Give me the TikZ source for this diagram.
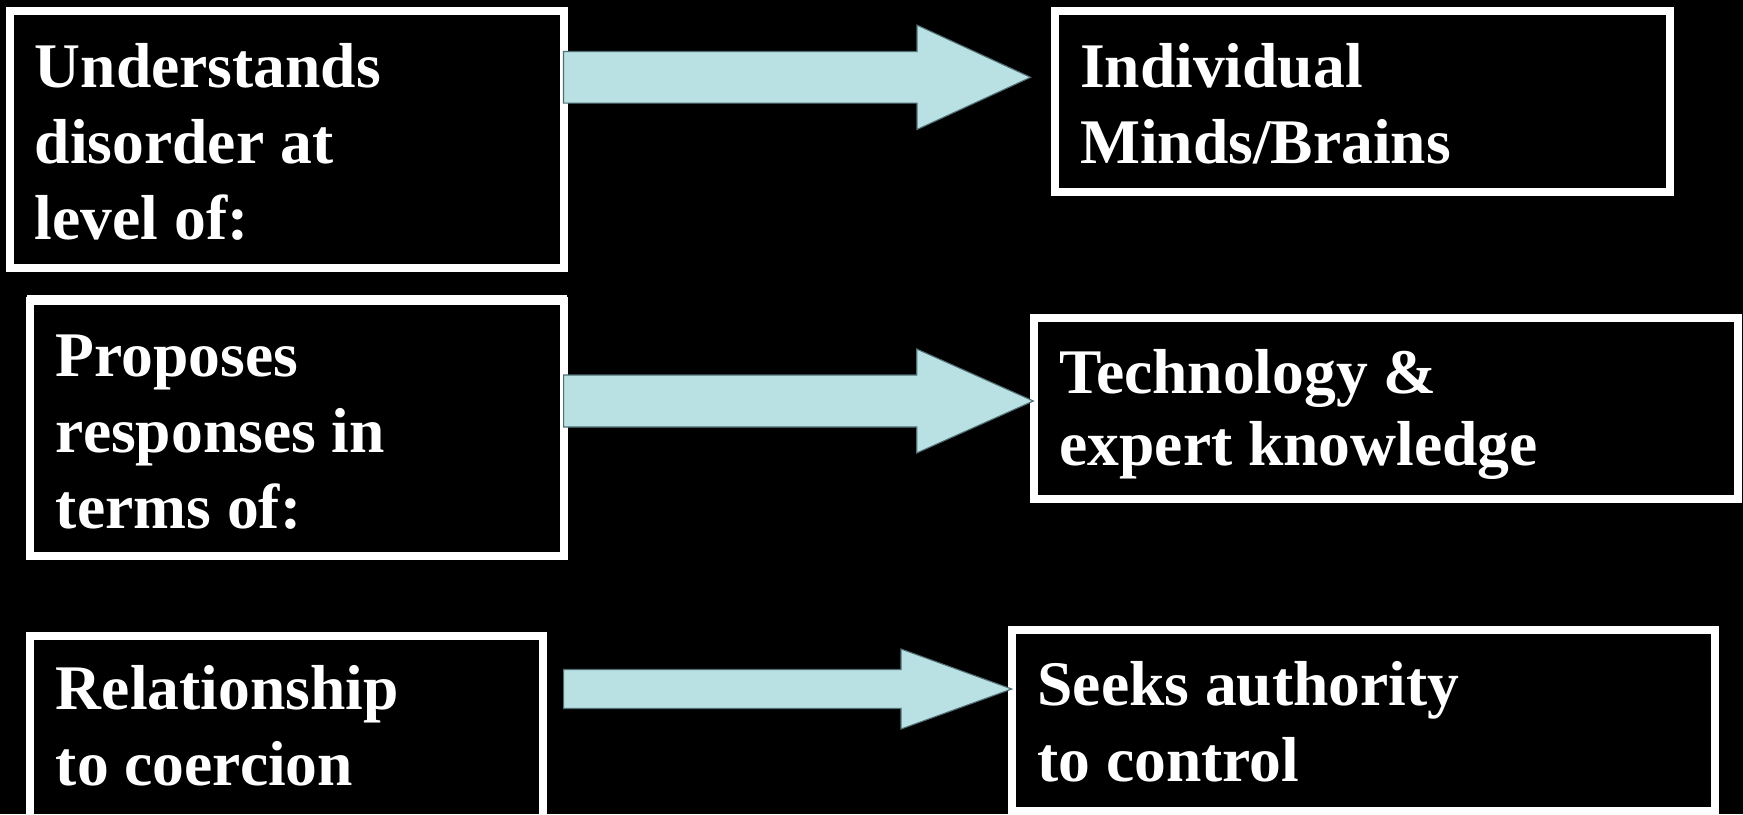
\documentclass[tikz,border=0pt]{standalone}
\usepackage{fontspec}
\setmainfont{Liberation Serif}
\usetikzlibrary{calc}
\definecolor{arrowblue}{RGB}{185,224,227}
\definecolor{arrowedge}{RGB}{80,110,115}
\tikzset{
  frame/.style={draw=white, line width=3.6pt, inner sep=0pt, outer sep=0pt},
  boxtext/.style={anchor=base west, inner sep=0pt, align=left, text=white,
    font=\fontsize{28.6pt}{34.2pt}\selectfont\bfseries},
  fatarrow/.style={fill=arrowblue, draw=arrowedge, line width=0.5pt}
}
% #1 start, #2 tip, #3 half shaft, #4 half head, #5 head length
\newcommand{\fatarrow}[5]{%
  \draw[fatarrow] ($(#1)+(0,-#3)$) -- ($(#2)+(-#5,-#3)$) -- ($(#2)+(-#5,-#4)$) -- (#2)
    -- ($(#2)+(-#5,#4)$) -- ($(#2)+(-#5,#3)$) -- ($(#1)+(0,#3)$) -- cycle;}
\begin{document}
\begin{tikzpicture}[x=0.45pt,y=0.45pt,yscale=-1,xscale=1]
    \useasboundingbox (0,0) rectangle (1743,814);
    \fill[black] (0,0) rectangle (1743,814);

    % Frames
    \node[frame, minimum width=249.2pt, minimum height=115.4pt] (understand) at (286.6,139.5) {};
    \node[frame, minimum width=276.8pt, minimum height=81.3pt] (minds) at (1362.5,101.5) {};
    \node[frame, minimum width=240pt, minimum height=114.9pt] (proposes) at (296.9,428.7) {};
    \node[frame, minimum width=316.8pt, minimum height=81.2pt] (technology) at (1385.7,408.5) {};
    \node[frame, minimum width=230.6pt, minimum height=87.5pt] (relation) at (286.4,732.75) {};
    \node[frame, minimum width=316.4pt, minimum height=81.4pt] (seeks) at (1363.6,720.1) {};
    \draw[white, line width=0.9pt] (27,296) -- (567,296);

    % Text Node
    \node[boxtext] (understandtext) at (34.4,239.3) {Understands\\disorder at\\level of:};
    % Text Node
    \node[boxtext] (mindstext) at (1079.6,163.3) {Individual\\Minds/Brains};
    % Text Node
    \node[boxtext] (proposestext) at (55.5,528.3) {Proposes\\responses in\\terms of:};
    % Text Node
    \node[boxtext, font=\fontsize{28.6pt}{32.4pt}\selectfont\bfseries] (technologytext) at (1059,465) {Technology \&\\expert knowledge};
    % Text Node
    \node[boxtext] (relationtext) at (55.5,785) {Relationship\\to coercion};
    % Text Node
    \node[boxtext] (seekstext) at (1037,781.7) {Seeks authority\\to control};

    % Arrows
    \coordinate (tipA) at (1030.6,77.3);
    \coordinate (tipB) at (1033.3,401);
    \coordinate (tipC) at (1011.7,689);
    \fatarrow{understand.east |- tipA}{tipA}{25.8}{52.2}{113.6}
    \fatarrow{proposes.east |- tipB}{tipB}{26}{52}{116.6}
    \fatarrow{proposes.east |- tipC}{tipC}{19.5}{40}{110.7}
\end{tikzpicture}
\end{document}
